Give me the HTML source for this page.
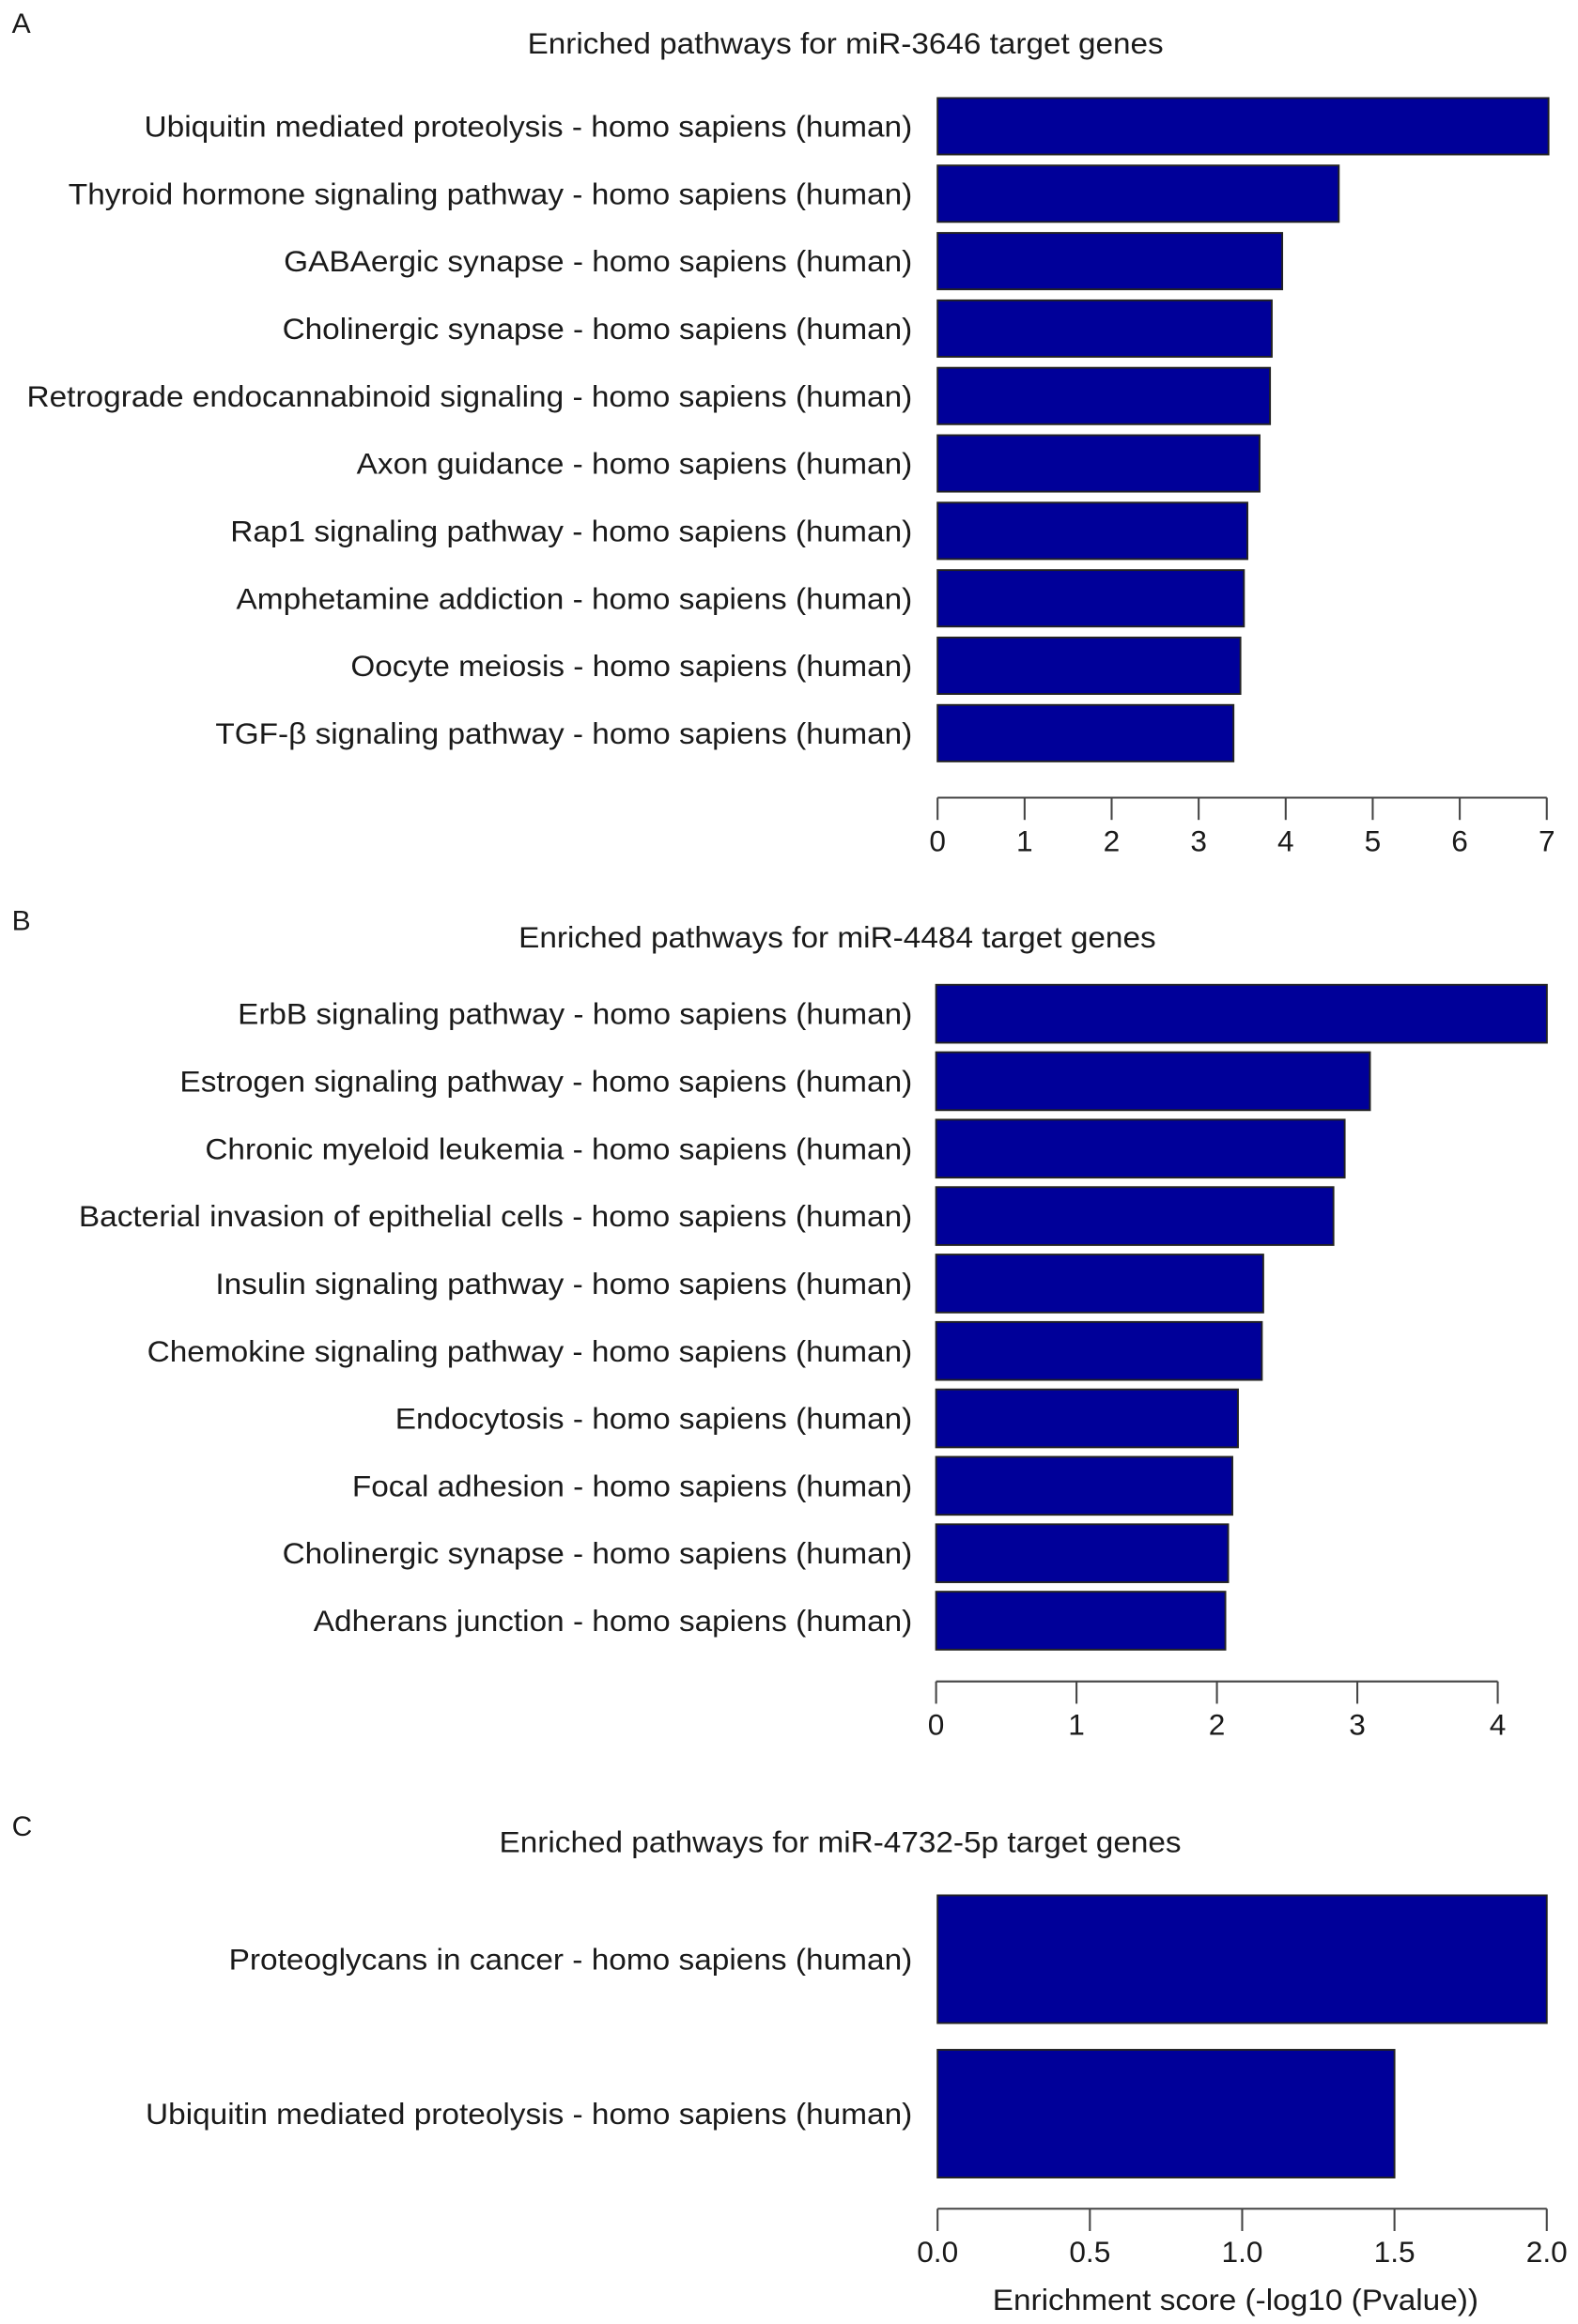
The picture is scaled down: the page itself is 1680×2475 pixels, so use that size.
<!DOCTYPE html>
<html><head><meta charset="utf-8"><style>
html,body{margin:0;padding:0;background:#fff}
svg{display:block}
text{font-family:"Liberation Sans",sans-serif;fill:#1a1a1a}
</style></head><body>
<svg id="fig" width="1680" height="2475" viewBox="0 0 1062 1564.6" xmlns="http://www.w3.org/2000/svg"></svg>
<script>
const labelsA=["Ubiquitin mediated proteolysis - homo sapiens (human)","Thyroid hormone signaling pathway - homo sapiens (human)","GABAergic synapse - homo sapiens (human)","Cholinergic synapse - homo sapiens (human)","Retrograde endocannabinoid signaling - homo sapiens (human)","Axon guidance - homo sapiens (human)","Rap1 signaling pathway - homo sapiens (human)","Amphetamine addiction - homo sapiens (human)","Oocyte meiosis - homo sapiens (human)","TGF-β signaling pathway - homo sapiens (human)"];
const valuesA=[7.02,4.61,3.96,3.84,3.82,3.70,3.56,3.52,3.48,3.40];
const ticksA=["0","1","2","3","4","5","6","7"];
const labelsB=["ErbB signaling pathway - homo sapiens (human)","Estrogen signaling pathway - homo sapiens (human)","Chronic myeloid leukemia - homo sapiens (human)","Bacterial invasion of epithelial cells - homo sapiens (human)","Insulin signaling pathway - homo sapiens (human)","Chemokine signaling pathway - homo sapiens (human)","Endocytosis - homo sapiens (human)","Focal adhesion - homo sapiens (human)","Cholinergic synapse - homo sapiens (human)","Adherans junction - homo sapiens (human)"];
const valuesB=[4.35,3.09,2.91,2.83,2.33,2.32,2.15,2.11,2.08,2.06];
const ticksB=["0","1","2","3","4"];
const labelsC=["Proteoglycans in cancer - homo sapiens (human)","Ubiquitin mediated proteolysis - homo sapiens (human)"];
const valuesC=[2.0,1.5];
const ticksC=["0.0","0.5","1.0","1.5","2.0"];

const NS="http://www.w3.org/2000/svg";
const svg=document.getElementById('fig');
function mk(tag,attrs,parent){const e=document.createElementNS(NS,tag);for(const k in attrs)e.setAttribute(k,attrs[k]);(parent||svg).appendChild(e);return e;}

function panel(cfg){
  const g=mk('g',{});
  
  
  const x=v=>cfg.x0+(v-cfg.tmin)/(cfg.tmax-cfg.tmin)*(cfg.x1-cfg.x0);
  const letter=mk('text',{x:8,y:cfg.letterY,'font-size':19},g);letter.textContent=cfg.letter;
  
  
  const t=mk('text',{x:cfg.titleX0,y:cfg.titleY,'font-size':20,textLength:cfg.titleW,lengthAdjust:'spacingAndGlyphs'},g);t.textContent=cfg.title;
  
  
  cfg.labels.forEach((lab,i)=>{
    const top=cfg.top+i*cfg.pitch;
    const r=mk('rect',{x:x(0),y:top,width:x(cfg.values[i])-x(0),height:cfg.bh,fill:'#000099',stroke:'#222','stroke-width':1.2},g);
    
    
    const tx=mk('text',{x:cfg.lx[i],y:top+cfg.bh/2+7,'font-size':20,textLength:614-cfg.lx[i],lengthAdjust:'spacingAndGlyphs'},g);tx.textContent=lab;
    
    
  });
  mk('line',{x1:x(cfg.tmin),x2:x(cfg.tmax),y1:cfg.axisY,y2:cfg.axisY,stroke:'#444','stroke-width':1.3},g);
  const n=cfg.ticks.length;
  cfg.ticks.forEach((tk,i)=>{
    const v=cfg.tmin+i*(cfg.tmax-cfg.tmin)/(n-1);
    mk('line',{x1:x(v),x2:x(v),y1:cfg.axisY,y2:cfg.axisY+15,stroke:'#444','stroke-width':1.3},g);
    const tt=mk('text',{x:x(v),y:cfg.axisY+36,'font-size':20,'text-anchor':'middle'},g);tt.textContent=tk;
    
    
  });
  if(cfg.xlabel){const xl=mk('text',{x:668,y:cfg.axisY+68,'font-size':20,textLength:327,lengthAdjust:'spacingAndGlyphs'},g);xl.textContent=cfg.xlabel;
    
    }
}
panel({name:'panel-a',letter:'A',letterY:22,title:'Enriched pathways for miR-3646 target genes',titleX0:355,titleW:428,titleY:36,
  labels:labelsA,values:valuesA,ticks:ticksA,tmin:0,tmax:7,x0:631,x1:1041,top:66,pitch:45.4,bh:38,axisY:537,
  lx:[97,46,191,190,18,240,155,159,236,145]});
panel({name:'panel-b',letter:'B',letterY:626,title:'Enriched pathways for miR-4484 target genes',titleX0:349,titleW:429,titleY:638,
  labels:labelsB,values:valuesB,ticks:ticksB,tmin:0,tmax:4,x0:630,x1:1008,top:663,pitch:45.4,bh:39,axisY:1132,
  lx:[160,121,138,53,145,99,266,237,190,211]});
panel({name:'panel-c',letter:'C',letterY:1236,title:'Enriched pathways for miR-4732-5p target genes',titleX0:336,titleW:459,titleY:1247,
  labels:labelsC,values:valuesC,ticks:ticksC,tmin:0,tmax:2,x0:631,x1:1041,top:1276,pitch:104,bh:86,axisY:1487,
  lx:[154,98],xlabel:'Enrichment score (-log10 (Pvalue))'});
</script>
</body></html>
